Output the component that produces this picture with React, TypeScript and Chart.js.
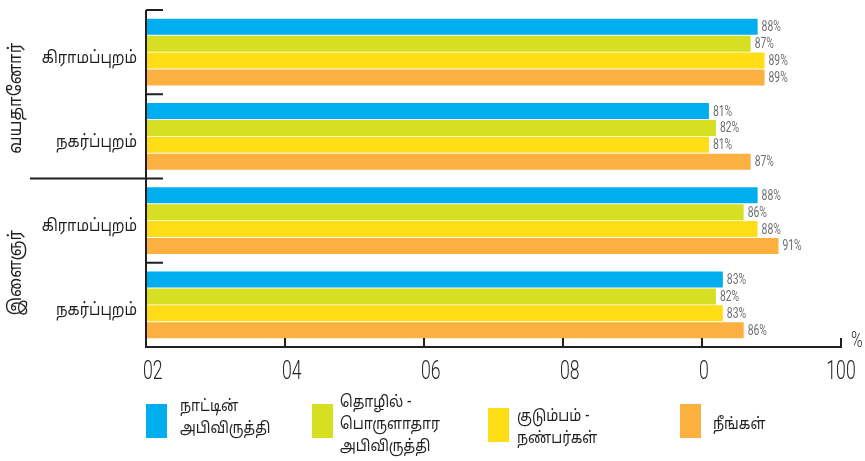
import React, { useEffect, useRef } from "react";
import { Chart, registerables } from "chart.js";

Chart.register(...registerables);

// ---- data ----
const outerGroups = ["வயதானோர்", "இளைஞர்"];
const innerCategories = ["கிராமப்புறம்", "நகர்ப்புறம்", "கிராமப்புறம்", "நகர்ப்புறம்"];
const seriesLabels = [
  ["நாட்டின்", "அபிவிருத்தி"],
  ["தொழில் -", "பொருளாதார", "அபிவிருத்தி"],
  ["குடும்பம் -", "நண்பர்கள்"],
  ["நீங்கள்"],
];
const nationalDevelopment = [88, 81, 88, 83];
const economicDevelopment = [87, 82, 86, 82];
const familyFriends = [89, 81, 88, 83];
const yourself = [89, 87, 91, 86];
const xTickValues = [0, 20, 40, 60, 80, 100];
const xTickLabels = ["02", "04", "06", "08", "0", "100"];
const axisUnit = "%";

const seriesColors = ["#00AEEF", "#D7DF23", "#FFDE17", "#FBB040"];
const TAMIL = "'Noto Sans Tamil', 'Lohit Tamil', 'Noto Sans', sans-serif";
const THIN = "Roboto, 'Liberation Sans', sans-serif";
const INK = "#231f20";

function drawText(
  ctx: CanvasRenderingContext2D,
  text: string,
  x: number,
  y: number,
  font: string,
  sx: number,
  align: CanvasTextAlign,
  baseline: CanvasTextBaseline,
  color: string,
  rotate = 0
) {
  ctx.save();
  ctx.translate(x, y);
  if (rotate) ctx.rotate(rotate);
  ctx.scale(sx, 1);
  ctx.font = font;
  ctx.textAlign = align;
  ctx.textBaseline = baseline;
  ctx.fillStyle = color;
  ctx.fillText(text, 0, 0);
  ctx.restore();
}

const decorPlugin = {
  id: "decor",
  afterDatasetsDraw(chart: any) {
    const ctx = chart.ctx;
    chart.data.datasets.forEach((ds: any, di: number) => {
      const meta = chart.getDatasetMeta(di);
      meta.data.forEach((el: any, i: number) => {
        drawText(ctx, `${ds.data[i]}%`, el.x + 4, el.y + 1, `14px ${THIN}`, 0.74, "left", "middle", "#6d6e71");
      });
    });
  },
  afterDraw(chart: any) {
    const ctx = chart.ctx;
    const { left, right, top, bottom } = chart.chartArea;
    const xs = chart.scales.x;
    const ys = chart.scales.y;
    ctx.save();
    ctx.strokeStyle = INK;
    ctx.lineWidth = 2;
    ctx.lineCap = "butt";
    ctx.beginPath();
    ctx.moveTo(left, top);
    ctx.lineTo(left, bottom + 1);
    ctx.moveTo(left - 1, bottom);
    ctx.lineTo(right + 1, bottom);
    xTickValues.forEach((v) => {
      const px = xs.getPixelForValue(v);
      ctx.moveTo(px, bottom);
      ctx.lineTo(px, bottom - 9);
    });
    const n = innerCategories.length;
    const half = (ys.getPixelForValue(1) - ys.getPixelForValue(0)) / 2;
    for (let i = 0; i < n; i++) {
      const py = ys.getPixelForValue(i) - half;
      const startX = i === 2 ? 30 : left;
      ctx.moveTo(startX, py);
      ctx.lineTo(left + 17, py);
    }
    ctx.stroke();
    ctx.restore();

    // x tick labels
    xTickValues.forEach((v, i) => {
      const px = xs.getPixelForValue(v);
      const last = i === xTickValues.length - 1;
      drawText(ctx, xTickLabels[i], last ? px : px - 3, bottom + 32, `300 26px ${THIN}`, 0.68, last ? "center" : "left", "alphabetic", INK);
    });

    // inner category labels
    innerCategories.forEach((c, i) => {
      drawText(ctx, c, left - 9, ys.getPixelForValue(i) + 7, `17px ${TAMIL}`, 0.86, "right", "middle", INK);
    });

    // outer group labels (rotated)
    const groupOffsets = [4, 10];
    outerGroups.forEach((g, gi) => {
      const a = ys.getPixelForValue(gi * 2) - half;
      const b = ys.getPixelForValue(gi * 2 + 1) + half;
      const cy = (a + b) / 2 + groupOffsets[gi];
      drawText(ctx, g, 17, cy, `18px ${TAMIL}`, 0.92, "center", "middle", INK, -Math.PI / 2);
    });

    // unit
    drawText(ctx, axisUnit, right + 10, bottom, `300 22px ${THIN}`, 0.72, "left", "alphabetic", INK);

    // legend
    const boxX = [146, 312, 488, 680];
    const boxY = [404, 404, 408, 404];
    const textX = [180, 340, 517, 713];
    const textY = [408, 404, 418, 426];
    chart.data.datasets.forEach((ds: any, di: number) => {
      ctx.fillStyle = ds.backgroundColor;
      ctx.fillRect(boxX[di], boxY[di], 21, 34);
      seriesLabels[di].forEach((line, li) => {
        drawText(ctx, line, textX[di], textY[di] + li * 22, `16px ${TAMIL}`, 0.88, "left", "middle", INK);
      });
    });
  },
};

export default function App() {
  const ref = useRef<HTMLCanvasElement>(null);
  useEffect(() => {
    if (!ref.current) return;
    const series = [nationalDevelopment, economicDevelopment, familyFriends, yourself];
    const chart = new Chart(ref.current, {
      type: "bar",
      data: {
        labels: innerCategories,
        datasets: series.map((d, i) => ({
          label: seriesLabels[i].join(" "),
          data: d,
          backgroundColor: seriesColors[i],
          categoryPercentage: 0.8,
          barPercentage: 0.95,
        })),
      },
      options: {
        animation: false,
        responsive: false,
        indexAxis: "y",
        layout: { padding: { left: 0, right: 24, top: 10, bottom: 0 } },
        plugins: { legend: { display: false }, tooltip: { enabled: false } },
        scales: {
          x: {
            min: 0,
            max: 100,
            afterBuildTicks: (s: any) => {
              s.ticks = xTickValues.map((v) => ({ value: v }));
            },
            ticks: { display: false },
            grid: { display: false, drawTicks: false },
            border: { display: false },
            afterFit: (s: any) => {
              s.height = 114;
            },
          },
          y: {
            ticks: { display: false },
            grid: { display: false, drawTicks: false },
            border: { display: false },
            afterFit: (s: any) => {
              s.width = 146;
            },
          },
        },
      },
      plugins: [decorPlugin],
    });
    return () => chart.destroy();
  }, []);
  return (
    <div style={{ position: "absolute", left: 0, top: 0, width: 865, height: 461, background: "#fff" }}>
      <canvas ref={ref} width={865} height={461} />
    </div>
  );
}
